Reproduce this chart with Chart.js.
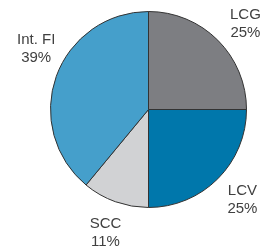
<!DOCTYPE html>
<html>
<head>
<meta charset="utf-8">
<script src="https://cdn.jsdelivr.net/npm/chart.js@4"></script>
<style>
  html, body { margin: 0; padding: 0; background: #fff; }
  #wrap { width: 273px; height: 252px; }
</style>
</head>
<body>
<div id="wrap"><canvas id="pieChart" width="273" height="252"></canvas></div>
<script>

// =====================================
// DATA
// =====================================

const labels = ["LCG", "LCV", "SCC", "Int. FI"];

const shares = [25, 25, 11, 39];

const colors = ["#7d7e82", "#0077ab", "#d1d2d4", "#459fcb"];

// nudge for each label, away from the plain radial spot
const labelNudge = [[5, 6], [2, -2], [1, 1], [10, -17]];


// =====================================
// LABEL PLUGIN
// =====================================

const outsideLabels = {

  id: "outsideLabels",

  afterDatasetsDraw(chart){

    const ctx = chart.ctx;
    const meta = chart.getDatasetMeta(0);

    ctx.save();
    ctx.font = "15px 'Liberation Sans', Arial, sans-serif";
    ctx.fillStyle = "#404040";
    ctx.textAlign = "center";
    ctx.textBaseline = "middle";

    meta.data.forEach((arc, i) => {

      const p = arc.getProps(
        ["x", "y", "startAngle", "endAngle", "outerRadius"],
        true
      );

      const mid = (p.startAngle + p.endAngle) / 2;
      const r = p.outerRadius + 32;

      const x = p.x + Math.cos(mid) * r + labelNudge[i][0];
      const y = p.y + Math.sin(mid) * r + labelNudge[i][1];

      ctx.fillText(labels[i], x, y - 9);
      ctx.fillText(shares[i] + "%", x, y + 9);

    });

    ctx.restore();

  }

};


// =====================================
// CHART
// =====================================

new Chart(
  document.getElementById("pieChart"),
  {

    type: "pie",

    data: {

      labels,

      datasets: [{
        data: shares,
        backgroundColor: colors,
        borderColor: "#333333",
        borderWidth: 1,
        hoverOffset: 0
      }]

    },

    options: {

      responsive: false,
      animation: false,

      layout: {
        padding: { left: 50, top: 11, right: 26, bottom: 44 }
      },

      plugins: {
        legend: { display: false },
        tooltip: { enabled: false }
      }

    },

    plugins: [outsideLabels]

  }
);

</script>
</body>
</html>
